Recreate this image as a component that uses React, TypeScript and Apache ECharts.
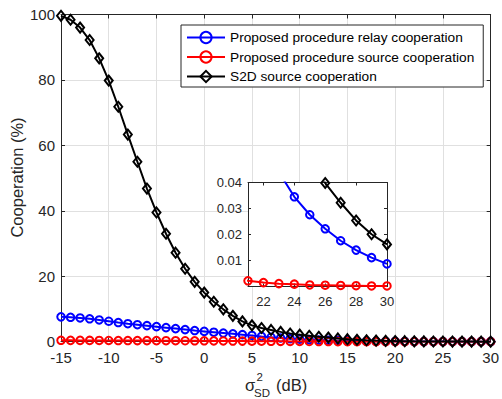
import React, { useEffect, useRef } from "react";
import * as echarts from "echarts";

const xs = [-15, -14, -13, -12, -11, -10, -9, -8, -7, -6, -5, -4, -3, -2, -1, 0, 1, 2, 3, 4, 5, 6, 7, 8, 9, 10, 11, 12, 13, 14, 15, 16, 17, 18, 19, 20, 21, 22, 23, 24, 25, 26, 27, 28, 29, 30];

const relayCoop = [7.6, 7.45, 7.25, 7.0, 6.65, 6.25, 5.85, 5.5, 5.2, 4.9, 4.6, 4.3, 4.0, 3.7, 3.4, 3.15, 2.9, 2.65, 2.4, 2.15, 1.9, 1.62, 1.36, 1.13, 0.93, 0.76, 0.62, 0.5, 0.4, 0.32, 0.26, 0.21, 0.17, 0.135, 0.108, 0.087, 0.07, 0.056, 0.044, 0.0345, 0.0276, 0.0222, 0.0176, 0.014, 0.0111, 0.0087];

const sourceCoop = [0.42, 0.41, 0.4, 0.39, 0.38, 0.37, 0.36, 0.35, 0.34, 0.33, 0.32, 0.31, 0.3, 0.29, 0.28, 0.27, 0.25, 0.23, 0.21, 0.19, 0.17, 0.15, 0.13, 0.11, 0.09, 0.075, 0.06, 0.048, 0.038, 0.03, 0.023, 0.017, 0.012, 0.008, 0.005, 0.0032, 0.0022, 0.0015, 0.0011, 0.0009, 0.0006, 0.0005, 0.0004, 0.0003, 0.0002, 0.0002];

const s2dCoop = [99.6, 98.4, 96.0, 92.2, 86.6, 79.8, 71.8, 63.3, 55.0, 46.8, 39.5, 33.0, 27.2, 22.3, 18.3, 15.0, 12.2, 9.9, 7.9, 6.2, 5.0, 4.2, 3.6, 3.0, 2.5, 2.15, 1.8, 1.5, 1.25, 1.0, 0.77, 0.59, 0.45, 0.35, 0.27, 0.2, 0.155, 0.118, 0.09, 0.069, 0.052, 0.0398, 0.0322, 0.0254, 0.0201, 0.0162];

const seriesNames = [
  "Proposed procedure relay cooperation",
  "Proposed procedure source cooperation",
  "S2D source cooperation",
];
const seriesColors = ["#0000ff", "#ff0000", "#000000"];
const seriesSymbols = ["circle", "circle", "diamond"];
const seriesValues = [relayCoop, sourceCoop, s2dCoop];

const insetXTicks = [22, 24, 26, 28, 30];

const FONT = "Liberation Sans";
const AXIS = "#262626";

export default function App() {
  const ref = useRef<HTMLDivElement>(null);
  useEffect(() => {
    const chart = echarts.init(ref.current!, null, { renderer: "svg" });

    const mkSeries = (xi: number, yi: number, z: number) =>
      seriesValues.map((vals, k) => ({
        type: "line",
        name: seriesNames[k],
        xAxisIndex: xi,
        yAxisIndex: yi,
        z: z + k * 0.01,
        data: xs.map((x, i) => [x, vals[i]]),
        symbol: seriesSymbols[k],
        symbolSize: seriesSymbols[k] === "diamond" ? [8, 10] : 7.5,
        showAllSymbol: true,
        clip: true,
        lineStyle: { color: seriesColors[k], width: 2 },
        itemStyle: {
          color: "rgba(255,255,255,0)",
          borderColor: seriesColors[k],
          borderWidth: 2,
        },
        emphasis: { disabled: true },
      }));

    const frameAxis = (gridIndex: number, position: string, z: number, extra: any) => ({
      type: "value",
      gridIndex,
      position,
      z,
      axisLine: { show: true, onZero: false, lineStyle: { color: AXIS, width: 1 } },
      axisTick: { show: true, inside: true, length: 4, lineStyle: { color: AXIS } },
      axisLabel: { show: false },
      splitLine: { show: false },
      ...extra,
    });

    const option: any = {
      animation: false,
      textStyle: { fontFamily: FONT },
      grid: [
        { left: 61, right: 7, top: 14.5, bottom: 57.3, containLabel: false },
        {
          left: 248,
          top: 182.5,
          width: 139,
          height: 104,
          show: true,
          backgroundColor: "#ffffff",
          borderWidth: 0,
          z: 3,
        },
      ],
      xAxis: [
        {
          type: "value",
          gridIndex: 0,
          position: "bottom",
          min: -15,
          max: 30,
          interval: 5,
          axisLine: { show: true, onZero: false, lineStyle: { color: AXIS } },
          axisTick: { show: true, inside: true, length: 4, lineStyle: { color: AXIS } },
          axisLabel: { color: AXIS, fontSize: 15, margin: 8, fontFamily: FONT },
          splitLine: { show: true, lineStyle: { color: "#e0e0e0", width: 1 } },
        },
        frameAxis(0, "top", 1, { min: -15, max: 30, interval: 5 }),
        {
          type: "value",
          gridIndex: 1,
          position: "bottom",
          min: 21,
          max: 30,
          z: 4,
          axisLine: { show: true, onZero: false, lineStyle: { color: AXIS } },
          axisTick: { show: true, inside: true, length: 3, lineStyle: { color: AXIS }, customValues: insetXTicks },
          axisLabel: { color: AXIS, fontSize: 13, margin: 8, fontFamily: FONT, customValues: insetXTicks },
          splitLine: { show: false },
        },
        frameAxis(1, "top", 4, {
          min: 21,
          max: 30,
          axisTick: { show: true, inside: true, length: 3, lineStyle: { color: AXIS }, customValues: insetXTicks },
        }),
      ],
      yAxis: [
        {
          type: "value",
          gridIndex: 0,
          position: "left",
          min: 0,
          max: 100,
          interval: 20,
          axisLine: { show: true, onZero: false, lineStyle: { color: AXIS } },
          axisTick: { show: true, inside: true, length: 4, lineStyle: { color: AXIS } },
          axisLabel: { color: AXIS, fontSize: 15, margin: 6, fontFamily: FONT },
          splitLine: { show: true, lineStyle: { color: "#e0e0e0", width: 1 } },
        },
        frameAxis(0, "right", 1, { min: 0, max: 100, interval: 20 }),
        {
          type: "value",
          gridIndex: 1,
          position: "left",
          min: 0,
          max: 0.04,
          interval: 0.01,
          z: 4,
          axisLine: { show: true, onZero: false, lineStyle: { color: AXIS } },
          axisTick: { show: true, inside: true, length: 3, lineStyle: { color: AXIS } },
          axisLabel: { color: AXIS, fontSize: 13, margin: 6, fontFamily: FONT, showMinLabel: false },
          splitLine: { show: false },
        },
        frameAxis(1, "right", 4, {
          min: 0,
          max: 0.04,
          interval: 0.01,
          axisTick: { show: true, inside: true, length: 3, lineStyle: { color: AXIS } },
        }),
      ],
      legend: {
        orient: "vertical",
        left: 181,
        top: 25,
        itemWidth: 38,
        itemHeight: 14,
        itemGap: 5.5,
        padding: [5.5, 9, 3.5, 5],
        selectedMode: false,
        backgroundColor: "#ffffff",
        borderColor: AXIS,
        borderWidth: 1,
        z: 10,
        textStyle: { fontSize: 13.7, color: "#000000", fontFamily: FONT },
        data: seriesNames,
      },
      graphic: [
        {
          type: "text",
          x: 16.5,
          y: 177.5,
          rotation: Math.PI / 2,
          style: {
            text: "Cooperation (%)",
            fontSize: 16.5,
            fontFamily: FONT,
            fill: AXIS,
            align: "center",
            verticalAlign: "middle",
          },
        },
        {
          type: "text",
          x: 245,
          y: 384.5,
          style: { text: "σ", fontSize: 16.5, fontFamily: FONT, fill: AXIS, align: "left", verticalAlign: "middle" },
        },
        {
          type: "text",
          x: 256.5,
          y: 376.5,
          style: { text: "2", fontSize: 11.5, fontFamily: FONT, fill: AXIS, align: "left", verticalAlign: "middle" },
        },
        {
          type: "text",
          x: 254,
          y: 392.5,
          style: { text: "SD", fontSize: 11.5, fontFamily: FONT, fill: AXIS, align: "left", verticalAlign: "middle" },
        },
        {
          type: "text",
          x: 276,
          y: 384.5,
          style: { text: "(dB)", fontSize: 16.5, fontFamily: FONT, fill: AXIS, align: "left", verticalAlign: "middle" },
        },
      ],
      series: [...mkSeries(0, 0, 2), ...mkSeries(2, 2, 5)],
    };

    chart.setOption(option);
    return () => chart.dispose();
  }, []);

  return (
    <div
      ref={ref}
      style={{ position: "fixed", left: 0, top: 0, width: 502, height: 399, background: "#ffffff" }}
    />
  );
}
